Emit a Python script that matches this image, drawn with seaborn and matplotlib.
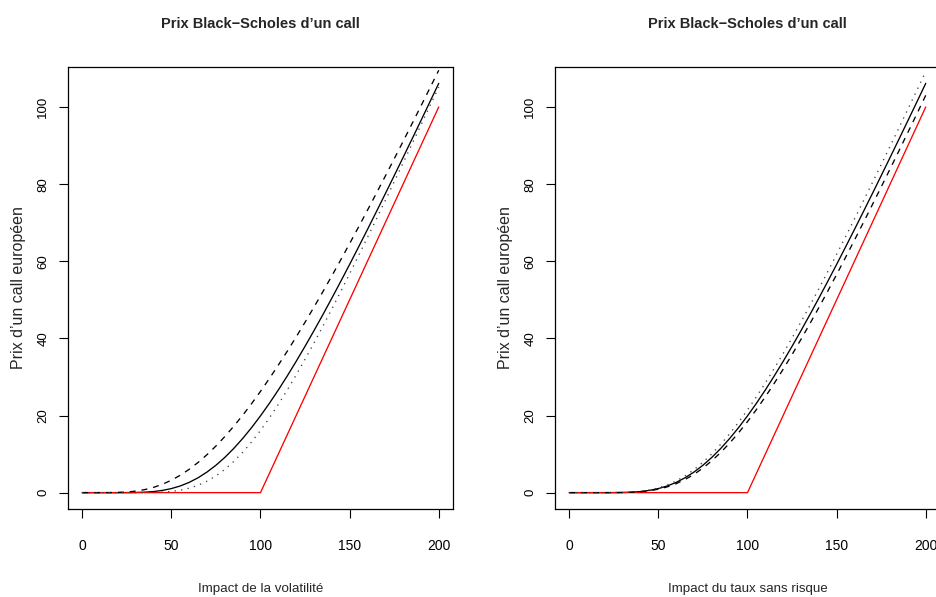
import matplotlib
matplotlib.use("Agg")
import matplotlib.pyplot as plt
import seaborn as sns

# Underlying price (x axis)
spot = [0, 5, 10, 15, 20, 25, 30, 35, 40, 45, 50, 55, 60, 65, 70, 75, 80, 85, 90, 95, 100,
        105, 110, 115, 120, 125, 130, 135, 140, 145, 150, 155, 160, 165, 170, 175, 180,
        185, 190, 195, 200]

# Reference call price (solid line, both panels)
call_ref = [0.00, 0.00, 0.00, 0.00, 0.00, 0.01, 0.04, 0.12, 0.28, 0.58, 1.05, 1.73, 2.66,
            3.86, 5.34, 7.10, 9.14, 11.46, 14.04, 16.86, 19.91, 23.17, 26.62, 30.25, 34.03,
            37.95, 42.00, 46.15, 50.41, 54.76, 59.18, 63.68, 68.23, 72.84, 77.49, 82.19,
            86.92, 91.68, 96.47, 101.29, 106.13]
# Left panel: higher volatility (dashed), lower volatility (dotted)
call_vol_high = [0.00, 0.00, 0.00, 0.01, 0.05, 0.16, 0.39, 0.78, 1.36, 2.17, 3.22, 4.51,
                 6.05, 7.83, 9.85, 12.09, 14.55, 17.21, 20.06, 23.08, 26.26, 29.60, 33.07,
                 36.66, 40.37, 44.19, 48.11, 52.11, 56.19, 60.35, 64.58, 68.87, 73.22,
                 77.62, 82.06, 86.55, 91.08, 95.65, 100.25, 104.88, 109.54]
call_vol_low = [0.00, 0.00, 0.00, 0.00, 0.00, 0.00, 0.00, 0.01, 0.05, 0.13, 0.31, 0.63,
                1.15, 1.91, 2.97, 4.34, 6.04, 8.08, 10.46, 13.14, 16.13, 19.38, 22.88,
                26.60, 30.51, 34.58, 38.80, 43.15, 47.60, 52.14, 56.76, 61.44, 66.17,
                70.95, 75.77, 80.61, 85.49, 90.38, 95.30, 100.23, 105.17]
# Right panel: lower risk-free rate (dashed), higher risk-free rate (dotted)
call_rate_low = [0.00, 0.00, 0.00, 0.00, 0.00, 0.01, 0.03, 0.09, 0.23, 0.49, 0.89, 1.50,
                 2.33, 3.41, 4.75, 6.37, 8.27, 10.43, 12.86, 15.52, 18.42, 21.54, 24.85,
                 28.34, 32.00, 35.80, 39.74, 43.80, 47.96, 52.22, 56.56, 60.99, 65.47,
                 70.02, 74.62, 79.26, 83.95, 88.67, 93.43, 98.21, 103.02]
call_rate_high = [0.00, 0.00, 0.00, 0.00, 0.00, 0.01, 0.05, 0.14, 0.34, 0.68, 1.22, 1.99,
                  3.03, 4.35, 5.97, 7.88, 10.07, 12.54, 15.28, 18.25, 21.45, 24.85, 28.44,
                  32.19, 36.09, 40.12, 44.27, 48.52, 52.86, 57.29, 61.79, 66.34, 70.96,
                  75.62, 80.32, 85.06, 89.83, 94.63, 99.46, 104.30, 109.17]
# Payoff at maturity (red)
payoff = [0, 0, 0, 0, 0, 0, 0, 0, 0, 0, 0, 0, 0, 0, 0, 0, 0, 0, 0, 0, 0,
          5, 10, 15, 20, 25, 30, 35, 40, 45, 50, 55, 60, 65, 70, 75, 80, 85, 90, 95, 100]

titles = ["Prix Black\u2212Scholes d\u2019un call", "Prix Black\u2212Scholes d\u2019un call"]
xlabels = ["Impact de la volatilit\u00e9", "Impact du taux sans risque"]
ylabel = "Prix d\u2019un call europ\u00e9en"
xticks = [0, 50, 100, 150, 200]
yticks = [0, 20, 40, 60, 80, 100]

sns.set_style("white")
plt.rcParams["font.family"] = ["Liberation Sans", "DejaVu Sans"]

fig = plt.figure(figsize=(9.37, 5.97), dpi=100)
W = 385 / 937
H = 442 / 597
B = (597 - 509) / 597
axes = [fig.add_axes([68 / 937, B, W, H]), fig.add_axes([555 / 937, B, W, H])]

panels = [(call_vol_high, call_vol_low), (call_rate_low, call_rate_high)]

ymax = max(call_ref)
ymin = min(call_ref)
rng = ymax - ymin

for ax, (dash_vals, dot_vals), title, xl in zip(axes, panels, titles, xlabels):
    lw = 0.95
    sns.lineplot(x=spot, y=call_ref, ax=ax, color="black", lw=lw,
                 estimator=None, sort=False)
    sns.lineplot(x=spot, y=payoff, ax=ax, color="#ff0000", lw=lw,
                 estimator=None, sort=False)
    sns.lineplot(x=spot, y=dash_vals, ax=ax, color="black", lw=lw,
                 linestyle=(0, (4.5, 4.5)), estimator=None, sort=False)
    sns.lineplot(x=spot, y=dot_vals, ax=ax, color="#444444", lw=lw,
                 linestyle=(0, (1, 4)), estimator=None, sort=False)

    ax.set_xlim(-8, 208)
    ax.set_ylim(ymin - 0.04 * rng, ymax + 0.04 * rng)
    ax.set_xticks(xticks)
    ax.set_yticks(yticks)
    ax.set_xticklabels([str(v) for v in xticks], fontsize=10)
    ax.set_yticklabels([str(v) for v in yticks], fontsize=9.5, rotation=90,
                       va="center")
    ax.tick_params(axis="x", direction="out", length=6.5, width=0.8, pad=15,
                   bottom=True, colors="black")
    ax.tick_params(axis="y", direction="out", length=6.5, width=0.8, pad=7,
                   left=True, colors="black")
    for sp in ax.spines.values():
        sp.set_visible(True)
        sp.set_color("black")
        sp.set_linewidth(0.9)
    ax.set_title(title, fontsize=10.5, fontweight="bold", pad=28)
    ax.set_xlabel(xl, fontsize=9.6, labelpad=22)
    ax.set_ylabel(ylabel, fontsize=11.5, labelpad=8)
    ax.grid(False)

fig.savefig("out.png", dpi=100)
